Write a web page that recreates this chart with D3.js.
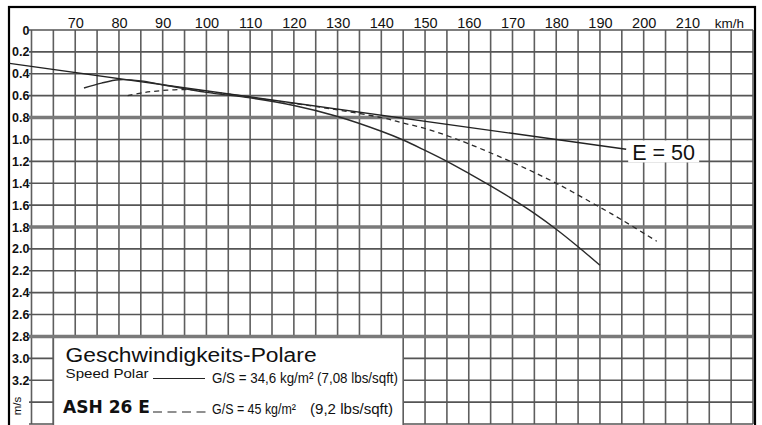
<!DOCTYPE html>
<html>
<head>
<meta charset="utf-8">
<script src="https://cdn.jsdelivr.net/npm/d3@7"></script>
<style>
  body { margin: 0; background: #fff; }
  svg { display: block; }
  text { font-family: "Liberation Sans", Arial, sans-serif; fill: #111; }
</style>
</head>
<body>
<div id="chart"></div>
<script>
// tick labels
var speedTicks = [70, 80, 90, 100, 110, 120, 130, 140, 150, 160, 170, 180, 190, 200, 210];
var sinkTicks = [0, 0.2, 0.4, 0.6, 0.8, 1.0, 1.2, 1.4, 1.6, 1.8, 2.0, 2.2, 2.4, 2.6, 2.8, 3.0, 3.2];
var heavyLines = [0.8, 1.8, 2.8];

// G/S = 34,6 kg/m2 (solid)
var solidSpeed = [72, 76, 80, 85, 90, 100, 110, 120, 130, 140, 145, 150, 155, 160, 165, 170, 175, 180, 185, 190];
var solidSink = [0.53, 0.485, 0.455, 0.465, 0.50, 0.57, 0.62, 0.69, 0.79, 0.925, 1.005, 1.10, 1.20, 1.31, 1.425, 1.545, 1.675, 1.82, 1.98, 2.15];

// G/S = 45 kg/m2 (dashed)
var dashSpeed = [82, 86, 91, 96, 100, 105, 110, 120, 130, 140, 145, 150, 155, 160, 170, 180, 190, 195, 203];
var dashSink = [0.60, 0.57, 0.55, 0.545, 0.56, 0.585, 0.615, 0.67, 0.73, 0.80, 0.85, 0.90, 0.965, 1.04, 1.21, 1.40, 1.62, 1.735, 1.93];

// glide ratio line E = 50
var eSpeed = [55, 196];
var eSink = [0.305, 1.09];

window.onload = function() {
    var W = 762, H = 425;

    var svg = d3.select("#chart").append("svg")
        .attr("width", W)
        .attr("height", H);

    var x = d3.scaleLinear().domain([60, 225]).range([31.5, 753]);
    var y = d3.scaleLinear().domain([0, 3.6]).range([30, 424]);

    // grid
    var grid = svg.append("g");
    grid.selectAll(".vl")
        .data(d3.range(60, 226, 5))
        .enter().append("line")
            .attr("x1", function(d) { return x(d); })
            .attr("x2", function(d) { return x(d); })
            .attr("y1", y(0))
            .attr("y2", y(3.6))
            .style("stroke", "#5e5e5e")
            .style("stroke-width", 1.6);

    grid.selectAll(".hl")
        .data(d3.range(0, 3.61, 0.2))
        .enter().append("line")
            .attr("x1", 29)
            .attr("x2", x(225))
            .attr("y1", function(d) { return y(d); })
            .attr("y2", function(d) { return y(d); })
            .style("stroke", "#555")
            .style("stroke-width", 1.6);

    // legend box
    svg.append("rect")
        .attr("x", x(65))
        .attr("y", y(2.8))
        .attr("width", x(145) - x(65))
        .attr("height", y(3.6) - y(2.8) + 4)
        .style("fill", "#fff")
        .style("stroke", "#5e5e5e")
        .style("stroke-width", 1.6);

    svg.selectAll(".heavy")
        .data(heavyLines)
        .enter().append("line")
            .attr("x1", 29)
            .attr("x2", x(225))
            .attr("y1", function(d) { return y(d); })
            .attr("y2", function(d) { return y(d); })
            .style("stroke", "#7a7a7a")
            .style("stroke-width", 3.5);

    // outer frame
    svg.append("rect")
        .attr("x", 9)
        .attr("y", 7)
        .attr("width", 746)
        .attr("height", 440)
        .style("fill", "none")
        .style("stroke", "#000")
        .style("stroke-width", 2.2);

    // top axis
    var xAxis = svg.append("g")
        .attr("transform", "translate(0," + y(0) + ")")
        .call(d3.axisTop(x).tickValues(speedTicks).tickSize(0).tickPadding(2));
    xAxis.select(".domain").remove();
    xAxis.selectAll("text")
        .style("font-size", "14.5px")
        .style("font-family", "'Liberation Sans', Arial, sans-serif");

    svg.append("text")
        .attr("x", x(219.6))
        .attr("y", y(0) - 2)
        .style("text-anchor", "middle")
        .style("font-size", "13.5px")
        .text("km/h");

    // left axis
    var yAxis = svg.append("g")
        .attr("transform", "translate(29.5,0)")
        .call(d3.axisLeft(y).tickValues(sinkTicks).tickSize(0).tickPadding(0)
            .tickFormat(function(d) { return d === 0 ? "0" : d3.format(".1f")(d); }));
    yAxis.select(".domain").remove();
    yAxis.selectAll("text")
        .style("font-size", "12.5px")
        .style("font-weight", "bold")
        .style("font-family", "'Liberation Sans', Arial, sans-serif");

    svg.append("text")
        .attr("transform", "translate(21,406) rotate(-90)")
        .style("text-anchor", "middle")
        .style("font-size", "11.5px")
        .text("m/s");

    // curves
    var line = d3.line()
        .x(function(d) { return x(d[0]); })
        .y(function(d) { return y(d[1]); })
        .curve(d3.curveCatmullRom.alpha(0.5));

    svg.append("path")
        .datum(d3.zip(eSpeed, eSink))
        .attr("d", line)
        .style("fill", "none")
        .style("stroke", "#222")
        .style("stroke-width", 1.4);

    svg.append("path")
        .datum(d3.zip(solidSpeed, solidSink))
        .attr("d", line)
        .style("fill", "none")
        .style("stroke", "#2a2a2a")
        .style("stroke-width", 1.4);

    svg.append("path")
        .datum(d3.zip(dashSpeed, dashSink))
        .attr("d", line)
        .style("fill", "none")
        .style("stroke", "#2a2a2a")
        .style("stroke-width", 1.3)
        .style("stroke-dasharray", "5,4");

    // E = 50 label
    svg.append("rect")
        .attr("x", x(196) + 2)
        .attr("y", y(1.0) + 1)
        .attr("width", 71)
        .attr("height", 22)
        .style("fill", "#fff");
    svg.append("text")
        .attr("x", x(196) + 6)
        .attr("y", y(1.0) + 21)
        .style("font-size", "21.5px")
        .text("E = 50");

    // legend texts
    var lx = x(67.8);
    svg.append("text")
        .attr("x", lx)
        .attr("y", 362)
        .attr("textLength", 251)
        .attr("lengthAdjust", "spacingAndGlyphs")
        .style("font-size", "20px")
        .text("Geschwindigkeits-Polare");

    svg.append("text")
        .attr("x", lx)
        .attr("y", 378)
        .attr("textLength", 83)
        .attr("lengthAdjust", "spacingAndGlyphs")
        .style("font-size", "13px")
        .text("Speed Polar");

    svg.append("line")
        .attr("x1", 153).attr("x2", 205)
        .attr("y1", 378.5).attr("y2", 378.5)
        .style("stroke", "#222")
        .style("stroke-width", 1.2);

    svg.append("text")
        .attr("x", 212)
        .attr("y", 383)
        .attr("textLength", 186)
        .attr("lengthAdjust", "spacingAndGlyphs")
        .style("font-size", "15.5px")
        .text("G/S = 34,6 kg/m² (7,08 lbs/sqft)");

    svg.append("text")
        .attr("x", 63)
        .attr("y", 413)
        .attr("textLength", 87)
        .attr("lengthAdjust", "spacingAndGlyphs")
        .style("font-size", "17px")
        .style("font-weight", "900")
        .style("font-family", "'DejaVu Sans', sans-serif")
        .text("ASH 26 E");

    svg.append("line")
        .attr("x1", 153).attr("x2", 206)
        .attr("y1", 412).attr("y2", 412)
        .style("stroke", "#222")
        .style("stroke-width", 1.2)
        .style("stroke-dasharray", "9,5.5");

    svg.append("text")
        .attr("x", 212)
        .attr("y", 414)
        .attr("textLength", 84)
        .attr("lengthAdjust", "spacingAndGlyphs")
        .style("font-size", "14px")
        .text("G/S = 45 kg/m²");

    svg.append("text")
        .attr("x", 310)
        .attr("y", 414)
        .attr("textLength", 83)
        .attr("lengthAdjust", "spacingAndGlyphs")
        .style("font-size", "15px")
        .text("(9,2 lbs/sqft)");
};
</script>
</body>
</html>
